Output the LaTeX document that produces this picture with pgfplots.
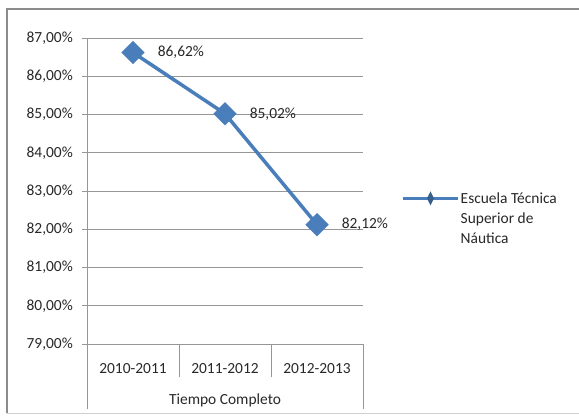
\documentclass[border=0pt]{standalone}
\usepackage{fontspec}
\setmainfont{Carlito}
\usepackage{pgfplots}
\pgfplotsset{compat=1.18}
\definecolor{serie}{RGB}{74,126,187}
\definecolor{rejilla}{RGB}{150,150,150}
\definecolor{texto}{RGB}{40,40,40}
\definecolor{marco}{RGB}{140,140,140}

\begin{document}
\begin{tikzpicture}
\useasboundingbox (0bp,0bp) rectangle (579bp,-419bp);
\draw[marco, line width=2bp] (590bp,-9bp) -- (7bp,-9bp) -- (7bp,-413bp);
\draw[marco!40, line width=1bp] (7bp,-413bp) -- (590bp,-413bp);
\begin{axis}[
  at={(87bp,-344bp)}, anchor=south west,
  scale only axis, width=276bp, height=306bp,
  xmin=-0.5, xmax=2.5, ymin=79, ymax=87,
  axis x line*=bottom, axis y line*=left,
  axis line style={draw=rejilla, line width=1bp, -},
  ymajorgrids, grid style={draw=rejilla, line width=1bp},
  ytick={79,80,...,87},
  tick align=outside, major tick length=5bp,
  ytick style={draw=rejilla, line width=1bp},
  /pgf/number format/assume math mode=true,
  yticklabel={\pgfmathprintnumber[fixed,fixed zerofill,precision=2,use comma]{\tick}\%},
  yticklabel style={font=\fontsize{15.5}{18}\selectfont, text=texto, anchor=east, inner sep=0pt, xshift=-9bp},
  xtick={0,1,2},
  xticklabels={2010-2011,2011-2012,2012-2013},
  major x tick style={draw=none},
  xticklabel style={font=\fontsize{15.5}{18}\selectfont, text=texto, anchor=center, inner sep=0pt, yshift=-20bp},
  minor xtick={0.5,1.5}, minor tick length=33bp,
  minor x tick style={draw=rejilla, line width=1bp},
  extra x ticks={-0.5,2.5}, extra x tick labels={},
  extra x tick style={major tick length=65bp, grid=none, major x tick style={draw=rejilla, line width=1bp}},
  xlabel={Tiempo Completo},
  xlabel style={font=\fontsize{15.5}{18}\selectfont, text=texto, at={(0.5,0)}, anchor=center, yshift=-56bp},
  clip=false,
  legend style={draw=none, fill=none, at={(1.127,0.503)}, anchor=north west,
    font=\fontsize{15.5}{20.5}\selectfont, text=texto, column sep=1bp, nodes={inner sep=0pt}},
  legend cell align=left,
  legend image code/.code={\draw[serie, line width=3.5bp] (0bp,0bp) -- (55bp,0bp);
    \fill[serie!75!black] (27.5bp,-3bp) -- (29bp,0bp) -- (27.5bp,3bp) -- (26bp,0bp) -- cycle;},
]
\addplot[color=serie, line width=3.5bp, mark=square*, mark size=6.5bp,
  mark options={rotate=45, solid},
  nodes near coords={\pgfmathprintnumber[fixed,fixed zerofill,precision=2,use comma]{\pgfplotspointmeta}\%},
  every node near coord/.append style={anchor=west, inner sep=0pt, xshift=23bp, yshift=0bp,
    font=\fontsize{15.5}{18}\selectfont, text=texto}]
  coordinates {(0,86.62) (1,85.02) (2,82.12)};
\addlegendentry{\parbox[t]{110bp}{Escuela Técnica\\Superior de\\Náutica}}
\end{axis}
\end{tikzpicture}
\end{document}
